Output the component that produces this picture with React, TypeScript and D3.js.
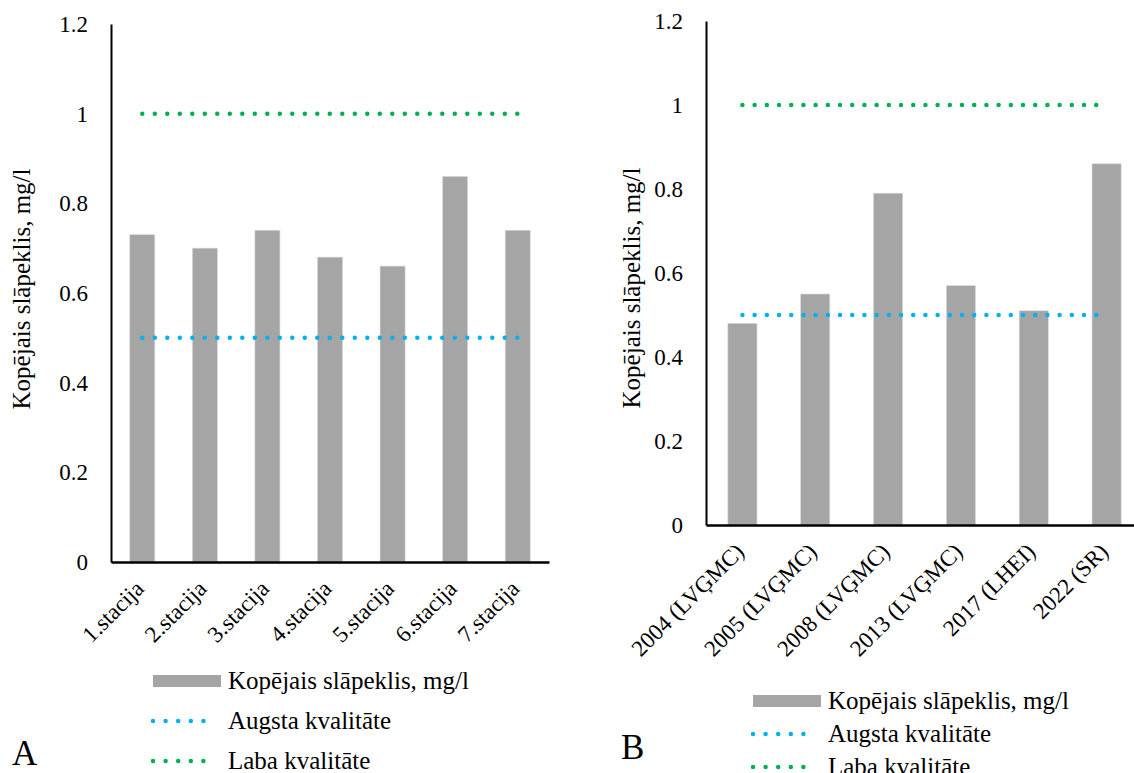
import { useEffect, useRef } from "react"
import * as d3 from "d3"

const stations = ["1.stacija", "2.stacija", "3.stacija", "4.stacija", "5.stacija", "6.stacija", "7.stacija"]
const stationValues = [0.73, 0.7, 0.74, 0.68, 0.66, 0.86, 0.74]

const years = ["2004 (LVĢMC)", "2005 (LVĢMC)", "2008 (LVĢMC)", "2013 (LVĢMC)", "2017 (LHEI)", "2022 (SR)"]
const yearValues = [0.48, 0.55, 0.79, 0.57, 0.51, 0.86]

const yTicks = [0, 0.2, 0.4, 0.6, 0.8, 1, 1.2]
const highQuality = 0.5
const goodQuality = 1

const seriesNames = ["Kopējais slāpeklis, mg/l", "Augsta kvalitāte", "Laba kvalitāte"]
const axisTitle = "Kopējais slāpeklis, mg/l"

const BAR = "#a5a5a5"
const BLUE = "#00b0f0"
const GREEN = "#00b050"
const FONT = "'Liberation Serif', 'Times New Roman', serif"

interface Panel {
  letter: string
  cats: string[]
  values: number[]
  x0: number
  x1: number
  yTop: number
  yBottom: number
  labelDx: number
  labelDy: number
  legendX: number
  legendY: number
  legendGap: number
  letterX: number
  letterY: number
  titleX: number
  titleY: number
  dotGap: number
}

const panels: Panel[] = [
  {
    letter: "A", cats: stations, values: stationValues,
    x0: 111, x1: 549, yTop: 24, yBottom: 562,
    labelDx: 3, labelDy: 28,
    legendX: 153, legendY: 681, legendGap: 40,
    letterX: 12, letterY: 765, titleX: 30, titleY: 289, dotGap: 12.5,
  },
  {
    letter: "B", cats: years, values: yearValues,
    x0: 706, x1: 1143, yTop: 21, yBottom: 525,
    labelDx: 3, labelDy: 28,
    legendX: 753, legendY: 701, legendGap: 33,
    letterX: 621, letterY: 759, titleX: 640, titleY: 288, dotGap: 12.2,
  },
]

function drawPanel(svg: d3.Selection<SVGSVGElement, unknown, null, undefined>, p: Panel) {
  const x = d3.scaleBand().domain(p.cats).range([p.x0, p.x1]).paddingInner(0.6).paddingOuter(0.3)
  const y = d3.scaleLinear().domain([0, 1.2]).range([p.yBottom, p.yTop])
  const g = svg.append("g")

  // bars
  g.selectAll("rect.bar")
    .data(p.values)
    .enter()
    .append("rect")
    .attr("class", "bar")
    .attr("x", (_d, i) => x(p.cats[i]) || 0)
    .attr("y", (d) => y(d))
    .attr("width", x.bandwidth())
    .attr("height", (d) => y(0) - y(d))
    .attr("fill", BAR)
    .attr("stroke", "#d9d9d9")
    .attr("stroke-width", 0.6)

  // threshold lines, round dotted
  const cx = (c: string) => (x(c) || 0) + x.bandwidth() / 2
  const line = d3.line<string>().x(cx)
  ;[
    { v: highQuality, color: BLUE },
    { v: goodQuality, color: GREEN },
  ].forEach((t) => {
    g.append("path")
      .attr("d", line.y(() => y(t.v))(p.cats))
      .attr("fill", "none")
      .attr("stroke", t.color)
      .attr("stroke-width", 4.5)
      .attr("stroke-linecap", "round")
      .attr("stroke-dasharray", `0 ${p.dotGap}`)
  })

  // y axis
  const yAxis = g.append("g")
    .attr("transform", `translate(${p.x0},0)`)
    .call(d3.axisLeft(y).tickValues(yTicks).tickSize(0).tickSizeOuter(0).tickPadding(23).tickFormat((d) => String(d)))
  yAxis.select(".domain").attr("stroke", "#000").attr("stroke-width", 2)
  yAxis.selectAll("text").style("font-family", FONT).style("font-size", "23px").attr("fill", "#000")

  // x axis
  const xAxis = g.append("g")
    .attr("transform", `translate(0,${p.yBottom})`)
    .call(d3.axisBottom(x).tickSize(0).tickSizeOuter(0))
  xAxis.select(".domain").attr("stroke", "#000").attr("stroke-width", 2.5)
  xAxis.selectAll("text")
    .style("font-family", FONT)
    .style("font-size", "23px")
    .attr("fill", "#000")
    .attr("text-anchor", "end")
    .attr("y", 0)
    .attr("dy", 0)
    .attr("transform", `translate(${p.labelDx},${p.labelDy}) rotate(-45)`)

  // axis title
  g.append("text")
    .attr("transform", `translate(${p.titleX},${p.titleY}) rotate(-90)`)
    .attr("text-anchor", "middle")
    .style("font-family", FONT)
    .style("font-size", "25px")
    .attr("fill", "#000")
    .text(axisTitle)

  // legend
  const lg = g.append("g").attr("transform", `translate(${p.legendX},${p.legendY})`)
  lg.append("rect").attr("x", 0).attr("y", -6).attr("width", 68).attr("height", 12).attr("fill", BAR)
  ;[BLUE, GREEN].forEach((c, i) => {
    lg.append("line")
      .attr("x1", 0)
      .attr("x2", 63)
      .attr("y1", (i + 1) * p.legendGap)
      .attr("y2", (i + 1) * p.legendGap)
      .attr("stroke", c)
      .attr("stroke-width", 4.5)
      .attr("stroke-linecap", "round")
      .attr("stroke-dasharray", "0 12.6")
  })
  lg.selectAll("text.leg")
    .data(seriesNames)
    .enter()
    .append("text")
    .attr("class", "leg")
    .attr("x", 75)
    .attr("y", (_d, i) => i * p.legendGap + 8)
    .style("font-family", FONT)
    .style("font-size", "25px")
    .attr("fill", "#000")
    .text((d) => d)

  g.append("text")
    .attr("x", p.letterX)
    .attr("y", p.letterY)
    .style("font-family", FONT)
    .style("font-size", "35px")
    .attr("fill", "#000")
    .text(p.letter)
}

export default function App() {
  const svgRef = useRef<SVGSVGElement>(null)

  useEffect(() => {
    if (!svgRef.current) return
    const svg = d3.select(svgRef.current)
    svg.selectAll("*").remove()
    panels.forEach((p) => drawPanel(svg, p))
  }, [])

  return (
    <svg
      ref={svgRef}
      width={1134}
      height={773}
      style={{ position: "absolute", left: 0, top: 0, background: "#fff", fontFamily: FONT }}
    />
  )
}
